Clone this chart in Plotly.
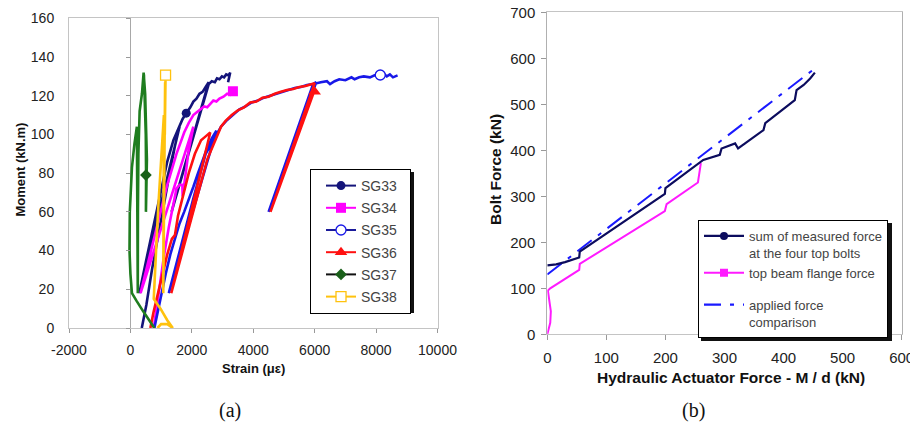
import plotly.graph_objects as go

# The page body adds an 8px margin, so the figure is 8px smaller than the window
OFF = 8
W, H = 918 - OFF, 427 - OFF

# ---------------- panel (a): Moment vs Strain ----------------
x_tick_vals_a = [-2000, 0, 2000, 4000, 6000, 8000, 10000]
x_tick_text_a = ["-2000", "0", "2000", "4000", "6000", "8000", "10000"]
y_tick_vals_a = [0, 20, 40, 60, 80, 100, 120, 140, 160]

sg33_strain = [370, 520, 700, 900, 1100, 1300, 1450, 1600, 290, 500, 750, 1000, 1200, 1400, 1600, 1700,
               1817, 1950, 2050, 2150, 2250, 2350, 2450, 2550, 1340, 2550, 2650, 2750, 2820, 2900, 2980,
               3050, 3120, 3200, 3250, 3180]
sg33_moment = [0, 12, 30, 48, 66, 82, 94, 104, 18, 34, 53, 71, 86, 97, 105, 108,
               111, 114, 117, 118.5, 121, 122, 124.5, 127, 60, 126, 127.5, 127, 129, 128.5, 130,
               129.5, 131, 130.5, 132, 127]
sg33_mark = [1817, 111]

sg34_strain = [760, 860, 980, 1100, 1250, 1400, 1500, 1600, 1690, 1700, 1800, 1900, 2000, 2050,
               330, 600, 900, 1200, 1500, 1750, 1900, 2050, 2160, 2300, 2400, 2500, 2600, 2700,
               2800, 2900, 3030, 3150, 3250, 3338]
sg34_moment = [0, 12, 25, 38, 52, 65, 72, 74, 74, 68, 80, 92, 100, 104,
               18, 35, 55, 74, 90, 101, 106, 110, 111.5, 113, 114.5, 114, 116, 117.5,
               117, 118.5, 119.5, 121, 120.5, 122.3]
sg34_mark = [3338, 122.3]

sg35_strain = [780, 880, 1000, 1150, 1300, 1450, 1600, 1750, 1900, 2050, 2200, 2350, 2500, 2650, 2800,
               1250, 1650, 2050, 2450, 2950, 3150, 3350, 3550, 3750, 3950, 4150, 4350, 4550, 4750,
               4950, 5150, 5350, 5550, 5750, 5950, 6050, 4500, 5950, 6200, 6400, 6500, 6650, 6800,
               7000, 7200, 7300, 7450, 7600, 7800, 7950, 8136, 8250, 8350, 8450, 8550, 8700]
sg35_moment = [0, 8, 18, 28, 38, 46, 54, 60, 66, 73, 80, 87, 93, 98, 102,
               18, 43, 67, 90, 104, 107.5, 110.5, 113, 114.5, 116.5, 117.5, 119, 120, 121,
               122, 123, 124, 124.5, 125.5, 126, 127, 60, 126, 127, 127.5, 126, 127.5, 128.5,
               128, 129.5, 128.5, 129.5, 130, 129.5, 130.5, 130.7, 131.5, 130, 131, 129.5, 130.5]
sg35_mark = [8136, 130.7]

sg36_strain = [650, 750, 900, 1050, 1200, 1350, 1450, 1550, 1700, 1900, 2100, 2300, 2450, 2600,
               1330, 1700, 2100, 2500, 2950, 3100, 3300, 3500, 3700, 3900, 4100, 4300, 4500, 4700,
               4900, 5100, 5300, 5500, 5700, 5900, 6000, 4560, 6000]
sg36_moment = [0, 8, 18, 28, 38, 46, 48, 58, 68, 80, 90, 97, 99, 101,
               18, 40, 64, 87, 104, 107, 110, 112.5, 114, 116.5, 117, 119, 119.5, 121,
               122, 123, 123.5, 124.5, 125, 126, 126.5, 60, 123]
sg36_mark = [6000, 122]

sg37_strain = [780, 600, 400, 200, 50, 0, -30, -20, 10, 50, 130, 210, 225, 240,
               245, 260, 300, 375, 430, 480, 515, 537, 520, 505, 510, 500, 470, 440]
sg37_moment = [0, 4, 9, 14, 18, 28, 40, 60, 72, 83, 95, 104, 60, 18,
               60, 90, 112, 121, 132, 121, 104, 87, 72, 60, 79, 100, 120, 131]
sg37_mark = [505, 79]

sg38_strain = [880, 1000, 1200, 1380, 1200, 980, 760, 800, 860, 920, 990, 1050, 1090,
               1070, 1090, 1110, 1130, 1080, 1120, 1144]
sg38_moment = [0, 2, 2, 0, 4, 10, 15, 30, 48, 66, 85, 100, 110,
               18, 60, 100, 127, 60, 100, 130.6]
sg38_mark = [1144, 130.6]

names_a = ["SG33", "SG34", "SG35", "SG36", "SG37", "SG38"]

# ---------------- panel (b): Bolt force vs actuator force ----------------
x_tick_vals_b = [0, 100, 200, 300, 400, 500, 600]
y_tick_vals_b = [0, 100, 200, 300, 400, 500, 600, 700]

measured_x = [0, 15, 30, 45, 54, 55, 120, 199, 200, 264, 292, 295, 318, 323, 366, 369,
              419, 422, 434, 445, 453]
measured_y = [150, 152, 157, 163, 167, 180, 237, 305, 318, 379, 390, 404, 415, 404, 444, 459,
              509, 531, 542, 556, 569]

flange_x = [0, 5, 6, 3, 1, 5, 54, 55, 199, 202, 255, 260]
flange_y = [0, 25, 50, 75, 95, 100, 140, 153, 268, 283, 330, 372]

applied_x = [0, 455]
applied_y = [130, 580]

names_b = ["sum of measured force<br>at the four top bolts", "top beam flange force",
           "applied force<br>comparison"]


def px(v):
    return (v - OFF) / W


def py(v):
    return 1 - (v - OFF) / H


FONT = "Liberation Sans, Arial, sans-serif"
SERIF = "Liberation Serif, Times New Roman, serif"
PAD = "\u00a0\u00a0"

xa0, xa1 = px(69), px(437.5)
ya0, ya1 = py(328), py(18.3)
xb0, xb1 = px(547.3), px(901.7)
yb0, yb1 = py(334.3), py(12.3)

fig = go.Figure()

series = [
    (names_a[0], sg33_strain, sg33_moment, sg33_mark, "#14147a", "#14147a",
     dict(symbol="circle", size=9, color="#14147a")),
    (names_a[1], sg34_strain, sg34_moment, sg34_mark, "#ff00ff", "#ff00ff",
     dict(symbol="square", size=10, color="#ff00ff")),
    (names_a[2], sg35_strain, sg35_moment, sg35_mark, "#1818e8", "#1a1a9a",
     dict(symbol="circle", size=10, color="white", line=dict(color="#1818e8", width=1.3))),
    (names_a[3], sg36_strain, sg36_moment, sg36_mark, "#ff1010", "#ff1010",
     dict(symbol="triangle-up", size=11, color="#ff1010")),
    (names_a[4], sg37_strain, sg37_moment, sg37_mark, "#1f7d1f", "#111111",
     dict(symbol="diamond", size=9, color="#1a5f1a")),
    (names_a[5], sg38_strain, sg38_moment, sg38_mark, "#ffc20e", "#ffc20e",
     dict(symbol="square", size=10, color="white", line=dict(color="#ffc20e", width=1.3))),
]

for name, xs, ys, mk, col, legcol, mstyle in series:
    fig.add_trace(go.Scatter(x=xs, y=ys, mode="lines", name=name, legendgroup=name,
                             showlegend=False, line=dict(color=col, width=2.6),
                             xaxis="x", yaxis="y", hoverinfo="skip"))
for name, xs, ys, mk, col, legcol, mstyle in series:
    fig.add_trace(go.Scatter(x=[mk[0]], y=[mk[1]], mode="lines+markers", name=name + PAD,
                             legendgroup=name, legend="legend",
                             line=dict(color=legcol, width=2), marker=mstyle,
                             xaxis="x", yaxis="y", hoverinfo="skip"))

# helper trace so the tick-only axis at strain 0 is drawn
fig.add_trace(go.Scatter(x=[None], y=[None], xaxis="x", yaxis="y3", showlegend=False,
                         hoverinfo="skip"))

# panel (b)
fig.add_trace(go.Scatter(x=applied_x, y=applied_y, mode="lines", showlegend=False,
                         legendgroup="B", line=dict(color="#1a1aff", width=2, dash="18px,8px,4px,8px"),
                         xaxis="x2", yaxis="y2", hoverinfo="skip"))
fig.add_trace(go.Scatter(x=flange_x, y=flange_y, mode="lines", showlegend=False,
                         legendgroup="A", line=dict(color="#ff1aff", width=2),
                         xaxis="x2", yaxis="y2", hoverinfo="skip"))
fig.add_trace(go.Scatter(x=measured_x, y=measured_y, mode="lines", showlegend=False,
                         legendgroup="A", line=dict(color="#0c0c5e", width=2.2),
                         xaxis="x2", yaxis="y2", hoverinfo="skip"))

fig.add_trace(go.Scatter(x=[None], y=[None], mode="lines+markers", name=names_b[0],
                         legend="legend2", legendgroup="A",
                         line=dict(color="#0c0c5e", width=2.2),
                         marker=dict(symbol="circle", size=8, color="#0c0c5e"),
                         xaxis="x2", yaxis="y2", hoverinfo="skip"))
fig.add_trace(go.Scatter(x=[None], y=[None], mode="lines+markers", name=names_b[1],
                         legend="legend2", legendgroup="A",
                         line=dict(color="#ff1aff", width=2.2),
                         marker=dict(symbol="square", size=8, color="#ff1aff"),
                         xaxis="x2", yaxis="y2", hoverinfo="skip"))
fig.add_trace(go.Scatter(x=[None], y=[None], mode="lines", name=names_b[2],
                         legend="legend2", legendgroup="B",
                         line=dict(color="#1a1aff", width=2.2, dash="17px,9px,4px,9px"),
                         xaxis="x2", yaxis="y2", hoverinfo="skip"))

frame = "#c4c4c4"
tickc = "#999999"

fig.update_layout(
    width=W, height=H,
    margin=dict(l=0, r=0, t=0, b=0, autoexpand=False),
    paper_bgcolor="white", plot_bgcolor="white",
    hovermode=False,
    font=dict(family=FONT, color="#222222"),
    xaxis=dict(domain=[xa0, xa1], anchor="y", range=[-2000, 10000], automargin=False,
               tickvals=x_tick_vals_a, ticktext=x_tick_text_a, ticklabeloverflow="allow",
               ticks="outside", ticklen=4, tickcolor=tickc,
               showline=True, linecolor=frame, mirror=True, showgrid=False,
               zeroline=True, zerolinecolor="#a8a8a8", zerolinewidth=1,
               tickfont=dict(size=14, color="#222222"), ticklabelstandoff=5),
    yaxis=dict(domain=[ya0, ya1], anchor="x", range=[0, 160], automargin=False,
               tickvals=y_tick_vals_a, ticks="", ticklabeloverflow="allow",
               showline=True, linecolor=frame, mirror=True, showgrid=False, zeroline=False,
               tickfont=dict(size=14, color="#222222"), ticklabelstandoff=11),
    yaxis3=dict(overlaying="y", anchor="free", side="left", automargin=False,
                position=xa0 + (xa1 - xa0) * 2000 / 12000,
                range=[0, 160], tickvals=y_tick_vals_a, ticks="outside", ticklen=4,
                tickcolor=tickc, showticklabels=False, showline=False, showgrid=False,
                zeroline=False),
    xaxis2=dict(domain=[xb0, xb1], anchor="y2", range=[0, 600], tickvals=x_tick_vals_b,
                automargin=False, ticklabeloverflow="allow",
                ticks="outside", ticklen=5, tickcolor=tickc,
                showline=True, linecolor=frame, mirror=True, showgrid=False, zeroline=False,
                tickfont=dict(size=15, color="#222222"), ticklabelstandoff=5),
    yaxis2=dict(domain=[yb0, yb1], anchor="x2", range=[0, 700], tickvals=y_tick_vals_b,
                automargin=False, ticklabeloverflow="allow",
                ticks="outside", ticklen=5, tickcolor=tickc,
                showline=True, linecolor="#b0b0b0", mirror=True, showgrid=False, zeroline=False,
                tickfont=dict(size=15, color="#222222"), ticklabelstandoff=3),
    legend=dict(x=px(310), y=py(169), xanchor="left", yanchor="top",
                bgcolor="white", bordercolor="#000000", borderwidth=1,
                font=dict(size=14, color="#444444", family=FONT),
                traceorder="grouped", tracegroupgap=1, itemwidth=30, indentation=10),
    legend2=dict(x=px(698), y=py(220), xanchor="left", yanchor="top",
                 bgcolor="white", bordercolor="#000000", borderwidth=1,
                 font=dict(size=13, color="#444444", family=FONT),
                 traceorder="grouped", tracegroupgap=12, itemwidth=40, valign="top"),
    shapes=[
        dict(type="rect", xref="paper", yref="paper", x0=px(313), x1=px(414),
             y0=py(313), y1=py(172), fillcolor="#111111", line=dict(width=0), layer="above"),
        dict(type="rect", xref="paper", yref="paper", x0=px(701), x1=px(892),
             y0=py(341), y1=py(223), fillcolor="#111111", line=dict(width=0), layer="above"),
    ],
    annotations=[
        dict(text="<b>Strain (με)</b>", x=px(253), y=py(368), xref="paper", yref="paper",
             showarrow=False, xanchor="center", yanchor="middle",
             font=dict(size=13, family=FONT, color="#111111")),
        dict(text="<b>Moment (kN.m)</b>", x=px(19.5), y=py(170), xref="paper", yref="paper",
             showarrow=False, xanchor="center", yanchor="middle", textangle=-90,
             font=dict(size=13, family=FONT, color="#111111")),
        dict(text="<b>Hydraulic Actuator Force - M / d (kN)</b>", x=px(731), y=py(377),
             xref="paper", yref="paper", showarrow=False, xanchor="center", yanchor="middle",
             font=dict(size=15.5, family=FONT, color="#111111")),
        dict(text="<b>Bolt Force (kN)</b>", x=px(495), y=py(170), xref="paper", yref="paper",
             showarrow=False, xanchor="center", yanchor="middle", textangle=-90,
             font=dict(size=15.5, family=FONT, color="#111111")),
        dict(text="(a)", x=px(230), y=py(410), xref="paper", yref="paper", showarrow=False,
             xanchor="center", yanchor="middle", font=dict(size=20, family=SERIF, color="#111111")),
        dict(text="(b)", x=px(693), y=py(410), xref="paper", yref="paper", showarrow=False,
             xanchor="center", yanchor="middle", font=dict(size=20, family=SERIF, color="#111111")),
    ],
)

fig.write_html("out.html")
